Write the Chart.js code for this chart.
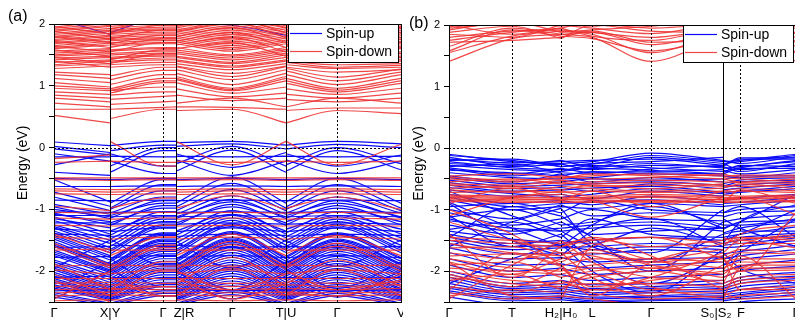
<!DOCTYPE html>
<html>
<head>
<meta charset="utf-8">
<script src="https://cdn.jsdelivr.net/npm/chart.js@4.4.0/dist/chart.umd.min.js"></script>
<style>
body { margin: 0; background: #fff; width: 795px; height: 322px; overflow: hidden; position: relative;
       font-family: "Liberation Sans", Arial, sans-serif; }
#wa { position: absolute; left: 0; top: 0; }
#wb { position: absolute; left: 400px; top: 0; }
.tag { position: absolute; font-size: 16px; line-height: 16px; color: #000; }
</style>
</head>
<body>
<canvas id="wa" width="403" height="322"></canvas>
<canvas id="wb" width="400" height="322"></canvas>
<div class="tag" style="left:8px;top:8px">(a)</div>
<div class="tag" style="left:409px;top:15px">(b)</div>
<script>
// ---- panel (a): k path and labels ----
// value order per band: Γ, X | Y, Γ, Z | R, Γ, T | U, Γ, V
const kA = [0, 56, 56, 109, 122, 122, 178, 232, 232, 283, 347];
const breaksA = [1, 4, 7];
const nodesA = [0, 56, 109, 122, 178, 232, 283, 347];
const solidA = [false, true, false, true, false, true, false, false];
const labelPosA = [0, 56, 109, 130, 178, 232, 283, 347];
const labelsA = ['Γ', 'X|Y', 'Γ', 'Z|R', 'Γ', 'T|U', 'Γ', 'V'];

// spin-down conduction bands (a)
const aDnCond = [
  [0.52, 0.40, 0.47, 0.62, 0.62, 0.60, 0.62, 0.40, 0.40, 0.60, 0.55],
  [0.62, 0.62, 0.62, 0.65, 0.66, 0.66, 0.65, 0.62, 0.60, 0.64, 0.64],
  [0.72, 0.66, 0.70, 0.74, 0.75, 0.72, 0.80, 0.66, 0.66, 0.80, 0.72],
  [0.80, 0.74, 0.78, 0.83, 0.84, 0.85, 0.76, 0.80, 0.78, 0.74, 0.80],
  [0.85, 0.80, 0.85, 0.90, 0.90, 0.95, 0.82, 0.88, 0.86, 0.80, 0.88],
  [0.90, 0.86, 0.92, 0.98, 0.98, 1.05, 0.88, 0.98, 0.95, 0.86, 0.96],
  [0.96, 0.92, 0.88, 1.05, 1.05, 1.10, 0.92, 1.08, 1.04, 0.90, 1.04],
  [1.00, 0.95, 0.92, 1.08, 1.08, 1.12, 0.94, 1.12, 1.08, 0.93, 1.08],
  [1.05, 0.98, 0.95, 1.12, 1.12, 1.15, 0.96, 1.15, 1.12, 0.96, 1.12],
  [1.12, 1.05, 1.02, 1.18, 1.18, 1.20, 1.02, 1.20, 1.18, 1.02, 1.18],
  [1.18, 1.12, 1.10, 1.25, 1.25, 1.26, 1.10, 1.26, 1.24, 1.08, 1.22],
  [1.22, 1.18, 1.16, 1.30, 1.30, 1.31, 1.15, 1.31, 1.28, 1.14, 1.27],
  [1.28, 1.32, 1.30, 1.34, 1.34, 1.32, 1.20, 1.32, 1.30, 1.22, 1.26],
  [1.32, 1.36, 1.34, 1.38, 1.38, 1.36, 1.26, 1.36, 1.34, 1.28, 1.30],
  [1.34, 1.40, 1.38, 1.42, 1.42, 1.40, 1.30, 1.40, 1.38, 1.30, 1.33],
  [1.38, 1.42, 1.40, 1.45, 1.45, 1.42, 1.32, 1.42, 1.40, 1.34, 1.36],
  [1.42, 1.46, 1.44, 1.48, 1.48, 1.46, 1.36, 1.46, 1.44, 1.38, 1.40],
  [1.45, 1.48, 1.46, 1.50, 1.50, 1.48, 1.38, 1.50, 1.46, 1.40, 1.42],
  [1.48, 1.52, 1.50, 1.53, 1.53, 1.52, 1.42, 1.53, 1.50, 1.44, 1.46],
  [1.50, 1.55, 1.52, 1.56, 1.56, 1.55, 1.45, 1.56, 1.52, 1.46, 1.48],
  [1.53, 1.58, 1.56, 1.60, 1.60, 1.58, 1.48, 1.59, 1.56, 1.50, 1.52],
  [1.56, 1.60, 1.58, 1.62, 1.62, 1.62, 1.50, 1.62, 1.58, 1.52, 1.55],
  [1.60, 1.66, 1.64, 1.68, 1.68, 1.68, 1.56, 1.68, 1.64, 1.58, 1.60],
  [1.62, 1.69, 1.67, 1.70, 1.70, 1.71, 1.59, 1.71, 1.67, 1.60, 1.63],
  [1.65, 1.72, 1.70, 1.73, 1.73, 1.74, 1.62, 1.74, 1.70, 1.63, 1.66],
  [1.68, 1.75, 1.73, 1.76, 1.76, 1.77, 1.65, 1.77, 1.73, 1.66, 1.69],
  [1.70, 1.77, 1.75, 1.78, 1.78, 1.80, 1.68, 1.80, 1.76, 1.68, 1.72],
  [1.73, 1.80, 1.78, 1.81, 1.81, 1.83, 1.71, 1.83, 1.79, 1.71, 1.75],
  [1.75, 1.82, 1.80, 1.84, 1.84, 1.86, 1.74, 1.86, 1.82, 1.74, 1.78],
  [1.78, 1.85, 1.83, 1.87, 1.87, 1.89, 1.77, 1.89, 1.85, 1.77, 1.81],
  [1.80, 1.88, 1.86, 1.90, 1.90, 1.92, 1.80, 1.92, 1.88, 1.80, 1.84],
  [1.83, 1.90, 1.88, 1.92, 1.92, 1.95, 1.83, 1.95, 1.91, 1.83, 1.87],
  [1.85, 1.93, 1.90, 1.95, 1.95, 1.98, 1.86, 1.98, 1.94, 1.86, 1.90],
  [1.88, 1.96, 1.93, 1.98, 1.98, 2.01, 1.89, 2.01, 1.97, 1.89, 1.93],
  [1.90, 1.98, 1.96, 2.02, 2.02, 2.04, 1.92, 2.04, 2.00, 1.92, 1.96],
  [1.93, 2.01, 1.99, 2.05, 2.05, 2.07, 1.95, 2.07, 2.03, 1.95, 1.99],
  [1.95, 2.05, 2.02, 2.08, 2.08, 2.10, 1.98, 2.10, 2.06, 1.98, 2.02],
  [2.00, 2.10, 2.08, 2.12, 2.12, 2.15, 2.04, 2.16, 2.12, 2.04, 2.08],
  [1.40, 1.30, 1.36, 1.52, 1.52, 1.60, 1.70, 1.48, 1.40, 1.66, 1.45],
  [1.46, 1.36, 1.42, 1.58, 1.58, 1.66, 1.78, 1.55, 1.48, 1.74, 1.52],
  [1.58, 1.48, 1.55, 1.70, 1.70, 1.72, 1.86, 1.62, 1.58, 1.82, 1.62],
  [1.64, 1.55, 1.62, 1.76, 1.76, 1.80, 1.94, 1.70, 1.65, 1.90, 1.70],
  [1.72, 1.62, 1.68, 1.82, 1.82, 1.88, 2.02, 1.78, 1.72, 1.98, 1.78],
  [1.80, 1.70, 1.76, 1.90, 1.90, 1.96, 2.08, 1.86, 1.80, 2.05, 1.86],
  [1.88, 1.76, 1.84, 1.98, 1.98, 2.04, 2.15, 1.94, 1.90, 2.12, 1.94],
  [1.96, 1.84, 1.92, 2.05, 2.05, 2.10, 2.20, 2.02, 1.98, 2.18, 2.02]
];
// spin-up conduction band (a)
const aUpCond = [
  [2.10, 1.83, 1.86, 2.10, 2.10, 2.02, 1.98, 1.82, 1.84, 2.06, 2.10]
];
// spin-up valence bands (a)
const aUpVal = [
  [0.09, 0.03, 0.03, 0.10, 0.10, 0.08, 0.10, 0.04, 0.04, 0.10, 0.06],
  [0.02, -0.08, -0.05, 0.04, 0.04, 0.02, 0.06, -0.02, -0.02, 0.05, 0.00],
  [-0.02, -0.12, -0.30, 0.00, 0.00, -0.26, 0.02, -0.30, -0.28, 0.00, -0.26],
  [-0.10, -0.22, -0.40, -0.05, -0.05, -0.38, -0.04, -0.40, -0.38, -0.05, -0.36],
  [-0.15, -0.15, -0.14, -0.15, -0.15, -0.14, -0.15, -0.14, -0.14, -0.15, -0.14],
  [-0.28, -0.10, -0.10, -0.30, -0.30, -0.10, -0.32, -0.08, -0.10, -0.30, -0.12],
  [-0.40, -0.45, -0.22, -0.42, -0.42, -0.20, -0.45, -0.22, -0.20, -0.42, -0.22],
  [-0.50, -0.52, -0.52, -0.50, -0.50, -0.52, -0.50, -0.52, -0.52, -0.50, -0.52],
  [-0.52, -0.88, -0.90, -0.52, -0.52, -0.90, -0.48, -0.90, -0.88, -0.50, -0.90],
  [-0.63, -0.63, -0.63, -0.62, -0.62, -0.63, -0.62, -0.63, -0.63, -0.62, -0.63],
  [-0.72, -0.95, -0.98, -0.60, -0.60, -0.96, -0.58, -0.98, -0.96, -0.60, -0.98],
  [-0.80, -1.02, -1.00, -0.70, -0.70, -1.02, -0.68, -1.02, -1.00, -0.70, -1.02],
  [-0.85, -0.86, -0.86, -0.85, -0.85, -0.86, -0.85, -0.86, -0.86, -0.85, -0.86],
  [-0.92, -1.08, -1.06, -0.80, -0.80, -1.08, -0.78, -1.08, -1.06, -0.80, -1.06],
  [-0.96, -1.15, -1.14, -0.86, -0.86, -1.15, -0.84, -1.15, -1.14, -0.86, -1.14],
  [-1.00, -1.12, -1.10, -0.90, -0.90, -1.12, -0.88, -1.12, -1.10, -0.90, -1.12],
  [-1.04, -1.05, -1.05, -1.04, -1.04, -1.05, -1.04, -1.05, -1.05, -1.04, -1.05],
  [-1.06, -1.25, -1.26, -0.94, -0.94, -1.26, -0.92, -1.26, -1.25, -0.94, -1.25],
  [-1.08, -1.20, -1.22, -0.98, -0.98, -1.22, -0.96, -1.22, -1.20, -0.98, -1.20],
  [-1.10, -1.10, -1.12, -1.10, -1.10, -1.12, -1.10, -1.12, -1.12, -1.10, -1.12],
  [-1.12, -1.40, -1.42, -1.04, -1.04, -1.42, -1.02, -1.40, -1.38, -1.04, -1.40],
  [-1.15, -1.30, -1.35, -1.10, -1.10, -1.35, -1.08, -1.35, -1.32, -1.10, -1.32],
  [-1.18, -1.45, -1.48, -1.12, -1.12, -1.48, -1.10, -1.46, -1.44, -1.12, -1.46],
  [-1.22, -1.22, -1.24, -1.22, -1.22, -1.24, -1.22, -1.24, -1.24, -1.22, -1.24],
  [-1.25, -1.50, -1.54, -1.16, -1.16, -1.54, -1.14, -1.52, -1.50, -1.16, -1.52],
  [-1.28, -1.55, -1.60, -1.20, -1.20, -1.60, -1.18, -1.58, -1.55, -1.20, -1.58],
  [-1.30, -1.62, -1.65, -1.25, -1.25, -1.65, -1.23, -1.63, -1.60, -1.24, -1.63],
  [-1.32, -1.35, -1.36, -1.30, -1.30, -1.36, -1.30, -1.36, -1.36, -1.30, -1.36],
  [-1.35, -1.66, -1.68, -1.27, -1.27, -1.68, -1.25, -1.66, -1.64, -1.27, -1.66],
  [-1.38, -1.70, -1.72, -1.30, -1.30, -1.72, -1.28, -1.70, -1.68, -1.30, -1.70],
  [-1.40, -1.42, -1.44, -1.40, -1.40, -1.44, -1.40, -1.42, -1.44, -1.40, -1.42],
  [-1.42, -1.75, -1.80, -1.38, -1.38, -1.80, -1.36, -1.78, -1.76, -1.38, -1.78],
  [-1.45, -1.78, -1.82, -1.40, -1.40, -1.82, -1.38, -1.80, -1.78, -1.40, -1.80],
  [-1.48, -1.82, -1.85, -1.42, -1.42, -1.85, -1.40, -1.84, -1.82, -1.42, -1.84],
  [-1.52, -1.88, -1.90, -1.48, -1.48, -1.90, -1.46, -1.88, -1.86, -1.48, -1.88],
  [-1.55, -1.90, -1.92, -1.50, -1.50, -1.92, -1.48, -1.90, -1.88, -1.50, -1.90],
  [-1.58, -1.92, -1.95, -1.52, -1.52, -1.95, -1.50, -1.94, -1.92, -1.52, -1.94],
  [-1.60, -1.95, -1.98, -1.55, -1.55, -1.98, -1.53, -1.96, -1.94, -1.55, -1.96],
  [-1.62, -1.60, -1.58, -1.60, -1.60, -1.58, -1.62, -1.60, -1.60, -1.62, -1.60],
  [-1.66, -1.98, -2.00, -1.58, -1.58, -2.00, -1.56, -1.98, -1.96, -1.58, -1.98],
  [-1.69, -2.00, -2.02, -1.62, -1.62, -2.02, -1.60, -2.01, -1.99, -1.61, -2.01],
  [-1.72, -2.02, -2.05, -1.65, -1.65, -2.05, -1.62, -2.04, -2.02, -1.64, -2.04],
  [-1.75, -2.06, -2.08, -1.68, -1.68, -2.08, -1.66, -2.07, -2.05, -1.68, -2.07],
  [-1.78, -1.76, -1.78, -1.75, -1.75, -1.78, -1.75, -1.78, -1.78, -1.75, -1.78],
  [-1.82, -2.10, -2.12, -1.72, -1.72, -2.12, -1.70, -2.10, -2.08, -1.72, -2.10],
  [-1.85, -2.14, -2.16, -1.76, -1.76, -2.16, -1.74, -2.14, -2.12, -1.76, -2.14],
  [-1.88, -2.18, -2.20, -1.80, -1.80, -2.20, -1.78, -2.18, -2.16, -1.80, -2.18],
  [-1.92, -2.22, -2.23, -1.84, -1.84, -2.23, -1.82, -2.22, -2.20, -1.84, -2.22],
  [-1.95, -2.25, -2.26, -1.88, -1.88, -2.26, -1.86, -2.25, -2.24, -1.88, -2.25],
  [-1.98, -2.28, -2.29, -1.92, -1.92, -2.29, -1.90, -2.28, -2.27, -1.92, -2.28],
  [-2.02, -2.30, -2.32, -1.95, -1.95, -2.32, -1.94, -2.30, -2.30, -1.96, -2.30],
  [-2.05, -2.33, -2.34, -1.98, -1.98, -2.34, -1.97, -2.33, -2.32, -1.99, -2.33],
  [-2.08, -2.35, -2.36, -2.02, -2.02, -2.36, -2.00, -2.35, -2.34, -2.02, -2.35],
  [-2.10, -2.08, -2.10, -2.12, -2.12, -2.10, -2.12, -2.10, -2.10, -2.12, -2.10],
  [-2.12, -2.38, -2.38, -2.06, -2.06, -2.38, -2.04, -2.38, -2.36, -2.06, -2.38],
  [-2.15, -2.40, -2.40, -2.10, -2.10, -2.40, -2.08, -2.40, -2.38, -2.10, -2.40],
  [-2.18, -2.42, -2.43, -2.14, -2.14, -2.43, -2.12, -2.42, -2.41, -2.14, -2.42],
  [-2.22, -2.44, -2.45, -2.18, -2.18, -2.45, -2.16, -2.44, -2.43, -2.18, -2.44],
  [-2.25, -2.46, -2.46, -2.22, -2.22, -2.46, -2.20, -2.46, -2.45, -2.22, -2.46],
  [-2.28, -2.48, -2.48, -2.25, -2.25, -2.48, -2.24, -2.48, -2.47, -2.25, -2.48],
  [-2.32, -2.30, -2.28, -2.30, -2.30, -2.28, -2.32, -2.30, -2.30, -2.32, -2.30],
  [-2.35, -2.52, -2.52, -2.32, -2.32, -2.52, -2.30, -2.52, -2.52, -2.32, -2.52],
  [-2.38, -2.54, -2.54, -2.36, -2.36, -2.54, -2.34, -2.54, -2.54, -2.36, -2.54],
  [-2.42, -2.56, -2.56, -2.40, -2.40, -2.56, -2.38, -2.56, -2.56, -2.40, -2.56],
  [-1.95, -1.50, -1.48, -1.90, -1.90, -1.52, -1.95, -1.50, -1.50, -1.92, -1.50],
  [-2.30, -1.85, -1.80, -2.25, -2.25, -1.85, -2.30, -1.85, -1.82, -2.28, -1.85],
  [-2.45, -2.00, -1.96, -2.40, -2.40, -2.00, -2.45, -2.00, -1.98, -2.42, -2.00]
];
// spin-down valence bands (a)
const aDnVal = [
  [-0.18, -0.12, 0.10, -0.30, -0.30, 0.10, -0.28, 0.10, 0.10, -0.28, 0.05],
  [-0.24, -0.22, -0.22, -0.24, -0.24, -0.22, -0.24, -0.22, -0.22, -0.24, -0.22],
  [-0.49, -0.49, -0.49, -0.49, -0.49, -0.49, -0.49, -0.49, -0.49, -0.49, -0.49],
  [-0.52, -0.53, -0.53, -0.52, -0.52, -0.53, -0.52, -0.53, -0.53, -0.52, -0.53],
  [-0.67, -0.68, -0.68, -0.67, -0.67, -0.68, -0.67, -0.68, -0.68, -0.67, -0.68],
  [-0.70, -0.72, -0.72, -0.70, -0.70, -0.72, -0.70, -0.72, -0.72, -0.70, -0.72],
  [-0.75, -0.76, -0.76, -0.75, -0.75, -0.76, -0.75, -0.76, -0.76, -0.75, -0.76],
  [-0.95, -1.02, -0.98, -0.82, -0.82, -0.98, -0.78, -1.00, -0.98, -0.80, -1.00],
  [-1.05, -1.06, -1.06, -1.05, -1.05, -1.06, -1.05, -1.06, -1.06, -1.05, -1.06],
  [-1.14, -1.16, -1.16, -1.14, -1.14, -1.16, -1.14, -1.16, -1.16, -1.14, -1.16],
  [-1.26, -1.27, -1.27, -1.26, -1.26, -1.27, -1.26, -1.27, -1.27, -1.26, -1.27],
  [-1.40, -1.70, -1.75, -1.45, -1.45, -1.75, -1.40, -1.75, -1.72, -1.42, -1.75],
  [-1.45, -1.48, -1.48, -1.45, -1.45, -1.48, -1.45, -1.48, -1.48, -1.45, -1.48],
  [-1.55, -1.90, -1.95, -1.58, -1.58, -1.95, -1.52, -1.92, -1.90, -1.55, -1.95],
  [-1.60, -1.95, -2.00, -1.62, -1.62, -2.00, -1.57, -1.97, -1.95, -1.60, -2.00],
  [-1.66, -1.64, -1.66, -1.66, -1.66, -1.66, -1.66, -1.64, -1.66, -1.66, -1.66],
  [-1.88, -2.30, -2.30, -1.85, -1.85, -2.20, -1.78, -2.25, -2.20, -1.82, -2.25],
  [-1.92, -1.90, -1.90, -1.92, -1.92, -1.90, -1.92, -1.90, -1.90, -1.92, -1.90],
  [-1.98, -2.05, -2.04, -1.98, -1.98, -2.04, -1.98, -2.05, -2.04, -1.98, -2.04],
  [-2.05, -2.40, -2.42, -2.00, -2.00, -2.40, -1.95, -2.40, -2.38, -1.98, -2.40],
  [-2.12, -2.12, -2.12, -2.12, -2.12, -2.12, -2.12, -2.12, -2.12, -2.12, -2.12],
  [-2.20, -2.18, -2.16, -2.20, -2.20, -2.16, -2.20, -2.18, -2.16, -2.20, -2.18],
  [-2.25, -2.22, -2.22, -2.25, -2.25, -2.22, -2.25, -2.22, -2.22, -2.25, -2.22],
  [-2.30, -2.28, -2.28, -2.30, -2.30, -2.28, -2.30, -2.28, -2.28, -2.30, -2.28],
  [-2.35, -2.34, -2.34, -2.35, -2.35, -2.34, -2.35, -2.34, -2.34, -2.35, -2.34],
  [-2.40, -2.38, -2.38, -2.40, -2.40, -2.38, -2.40, -2.38, -2.38, -2.40, -2.38],
  [-2.48, -2.46, -2.46, -2.48, -2.48, -2.46, -2.48, -2.46, -2.46, -2.48, -2.46],
  [-2.15, -2.50, -2.30, -2.25, -2.25, -2.10, -2.45, -2.20, -2.35, -2.40, -2.05],
  [-2.45, -2.00, -2.10, -2.40, -2.40, -2.00, -2.30, -2.05, -2.00, -2.30, -2.15]
];

// ---- panel (b): k path and labels ----
// value order per band: Γ, T, H2 | H0, L, Γ, S0 | S2, F, Γ
const kB = [0, 63, 112, 112, 143, 202, 274, 274, 291, 347];
const breaksB = [2, 6];
const nodesB = [0, 63, 112, 143, 202, 274, 291, 347];
const solidB = [false, false, false, false, false, true, false, false];
const labelPosB = [0, 63, 112, 143, 202, 267, 292, 347];
const labelsB = ['Γ', 'T', 'H₂|H₀', 'L', 'Γ', 'S₀|S₂', 'F', 'Γ'];

const bDnCond = [
  [1.41, 1.78, 1.85, 1.85, 1.80, 1.41, 1.85, 1.85, 1.78, 1.41],
  [1.55, 1.82, 1.90, 1.90, 1.85, 1.55, 1.92, 1.92, 1.82, 1.55],
  [1.58, 1.92, 1.82, 1.82, 1.78, 1.58, 1.80, 1.80, 1.70, 1.57],
  [1.65, 1.95, 1.85, 1.85, 1.88, 1.68, 1.90, 1.90, 1.80, 1.66],
  [1.72, 1.75, 1.80, 1.80, 1.90, 1.72, 1.75, 1.75, 1.90, 1.72],
  [1.75, 1.88, 1.95, 1.95, 1.82, 1.75, 1.98, 1.98, 1.92, 1.74],
  [1.80, 1.90, 1.92, 1.92, 1.88, 1.80, 1.95, 1.95, 1.88, 1.80],
  [1.85, 1.80, 2.00, 2.00, 1.95, 1.86, 2.05, 2.05, 2.00, 1.86],
  [1.88, 1.98, 1.78, 1.78, 2.00, 1.90, 1.88, 1.88, 1.95, 1.88],
  [1.92, 2.05, 1.88, 1.88, 1.92, 1.98, 2.10, 2.10, 2.05, 1.98],
  [1.95, 2.02, 1.98, 1.98, 2.02, 1.95, 2.02, 2.02, 1.98, 1.95],
  [2.00, 1.85, 1.95, 1.95, 2.05, 2.05, 1.96, 1.96, 1.85, 2.00],
  [1.97, 2.10, 2.05, 2.05, 1.98, 2.10, 2.15, 2.15, 2.10, 2.05]
];
const bUpVal = [
  [-0.10, -0.22, -0.25, -0.25, -0.22, -0.08, -0.20, -0.22, -0.20, -0.10],
  [-0.12, -0.20, -0.30, -0.30, -0.26, -0.12, -0.22, -0.25, -0.22, -0.12],
  [-0.15, -0.28, -0.20, -0.20, -0.30, -0.15, -0.25, -0.20, -0.25, -0.14],
  [-0.18, -0.24, -0.22, -0.22, -0.20, -0.18, -0.28, -0.30, -0.16, -0.16],
  [-0.20, -0.18, -0.30, -0.30, -0.25, -0.22, -0.15, -0.28, -0.18, -0.18],
  [-0.22, -0.32, -0.35, -0.35, -0.32, -0.25, -0.32, -0.38, -0.32, -0.20],
  [-0.25, -0.30, -0.26, -0.26, -0.35, -0.28, -0.30, -0.33, -0.30, -0.22],
  [-0.28, -0.35, -0.38, -0.38, -0.28, -0.32, -0.38, -0.25, -0.35, -0.27],
  [-0.30, -0.26, -0.40, -0.40, -0.42, -0.34, -0.28, -0.30, -0.38, -0.25],
  [-0.32, -0.42, -0.33, -0.33, -0.40, -0.38, -0.35, -0.40, -0.28, -0.30],
  [-0.34, -0.45, -0.38, -0.38, -0.33, -0.36, -0.42, -0.42, -0.33, -0.33],
  [-0.36, -0.40, -0.45, -0.45, -0.38, -0.42, -0.45, -0.36, -0.42, -0.35],
  [-0.40, -0.48, -0.50, -0.50, -0.48, -0.40, -0.42, -0.45, -0.48, -0.40],
  [-0.45, -0.55, -0.42, -0.42, -0.55, -0.48, -0.55, -0.52, -0.45, -0.45],
  [-0.48, -0.58, -0.55, -0.55, -0.50, -0.52, -0.50, -0.58, -0.52, -0.48],
  [-0.52, -0.62, -0.60, -0.60, -0.58, -0.55, -0.60, -0.62, -0.55, -0.52],
  [-0.56, -0.66, -0.64, -0.64, -0.70, -0.58, -0.66, -0.64, -0.60, -0.55],
  [-0.60, -0.70, -0.68, -0.68, -0.65, -0.62, -0.72, -0.68, -0.65, -0.58],
  [-0.64, -0.74, -0.80, -0.80, -0.75, -0.66, -0.74, -0.72, -0.70, -0.62],
  [-0.68, -0.78, -0.75, -0.75, -0.82, -0.70, -0.78, -0.75, -0.72, -0.66],
  [-0.75, -0.90, -0.85, -0.85, -0.92, -0.78, -0.88, -0.85, -0.82, -0.75],
  [-0.80, -0.95, -0.90, -0.90, -0.88, -0.84, -0.92, -0.90, -0.88, -0.80],
  [-0.85, -1.00, -0.95, -0.95, -0.98, -0.90, -0.95, -0.95, -0.92, -0.85],
  [-0.95, -0.90, -1.05, -1.05, -0.85, -1.00, -1.05, -1.05, -1.00, -0.95],
  [-1.00, -1.15, -0.92, -0.92, -1.10, -1.05, -1.10, -1.12, -1.05, -1.02],
  [-1.05, -1.25, -1.15, -1.15, -1.00, -1.15, -1.18, -1.20, -1.15, -1.08],
  [-1.12, -1.00, -1.25, -1.25, -1.20, -0.95, -1.25, -1.25, -1.25, -1.15],
  [-1.15, -1.35, -1.30, -1.30, -1.25, -1.20, -1.30, -1.32, -1.20, -1.18],
  [-1.18, -1.30, -1.35, -1.35, -1.30, -1.25, -1.35, -1.38, -1.30, -1.20],
  [-1.25, -1.40, -1.20, -1.20, -1.40, -1.35, -1.30, -1.45, -1.40, -1.28],
  [-1.32, -1.20, -1.45, -1.45, -1.15, -1.40, -1.45, -1.40, -1.35, -1.35],
  [-1.35, -1.48, -1.55, -1.55, -1.50, -1.45, -1.50, -1.48, -1.45, -1.38],
  [-1.40, -1.55, -1.50, -1.50, -1.55, -1.30, -1.55, -1.55, -1.50, -1.42],
  [-1.45, -1.60, -1.58, -1.58, -1.65, -1.60, -1.65, -1.58, -1.55, -1.46],
  [-1.50, -1.65, -1.62, -1.62, -1.60, -1.55, -1.60, -1.62, -1.60, -1.50],
  [-1.55, -1.72, -1.70, -1.70, -1.72, -1.65, -1.70, -1.72, -1.68, -1.58],
  [-1.62, -1.80, -1.78, -1.78, -1.85, -1.80, -1.78, -1.80, -1.75, -1.65],
  [-1.70, -1.90, -1.88, -1.88, -1.95, -1.90, -1.85, -1.90, -1.82, -1.72],
  [-1.80, -2.00, -1.95, -1.95, -2.05, -2.00, -1.95, -2.00, -1.92, -1.82],
  [-1.90, -2.10, -2.05, -2.05, -2.15, -2.10, -2.05, -2.10, -2.00, -1.92],
  [-2.00, -2.20, -2.15, -2.15, -2.22, -2.20, -2.15, -2.20, -2.10, -2.02],
  [-2.05, -2.25, -2.20, -2.20, -2.28, -2.25, -2.20, -2.25, -2.15, -2.08],
  [-2.10, -2.28, -2.25, -2.25, -2.30, -2.28, -2.25, -2.28, -2.20, -2.12],
  [-2.15, -2.32, -2.28, -2.28, -2.35, -2.32, -2.28, -2.32, -2.25, -2.18],
  [-2.20, -2.35, -2.32, -2.32, -2.38, -2.35, -2.32, -2.35, -2.30, -2.22],
  [-2.25, -2.38, -2.36, -2.36, -2.42, -2.40, -2.36, -2.38, -2.35, -2.26],
  [-2.28, -2.42, -2.40, -2.40, -2.45, -2.42, -2.40, -2.42, -2.38, -2.30],
  [-2.32, -2.45, -2.43, -2.43, -2.48, -2.46, -2.43, -2.45, -2.42, -2.34],
  [-2.35, -2.48, -2.46, -2.46, -2.50, -2.48, -2.46, -2.48, -2.45, -2.38],
  [-2.42, -2.55, -2.52, -2.52, -2.55, -2.55, -2.52, -2.55, -2.50, -2.45],
  [-0.70, -1.10, -1.35, -1.35, -1.60, -1.85, -1.40, -1.30, -1.20, -0.75],
  [-0.88, -1.30, -1.60, -1.60, -1.25, -0.90, -1.30, -1.55, -1.20, -0.92],
  [-0.90, -1.50, -1.75, -1.75, -1.35, -1.15, -1.60, -1.50, -1.40, -1.00],
  [-1.10, -1.60, -1.40, -1.40, -1.80, -2.20, -1.75, -1.90, -1.70, -1.15],
  [-1.45, -0.95, -1.10, -1.10, -1.45, -2.00, -1.20, -1.05, -0.95, -1.45],
  [-1.60, -1.20, -0.98, -0.98, -1.55, -1.70, -1.00, -1.15, -1.30, -1.60],
  [-2.20, -1.80, -1.55, -1.55, -2.00, -2.35, -1.65, -1.70, -1.95, -2.20]
];
const bDnVal = [
  [-0.45, -0.42, -0.48, -0.48, -0.45, -0.42, -0.45, -0.46, -0.44, -0.44],
  [-0.47, -0.52, -0.50, -0.50, -0.42, -0.45, -0.50, -0.42, -0.47, -0.47],
  [-0.50, -0.55, -0.45, -0.45, -0.50, -0.48, -0.42, -0.50, -0.55, -0.50],
  [-0.55, -0.50, -0.58, -0.58, -0.55, -0.52, -0.55, -0.48, -0.50, -0.55],
  [-0.58, -0.60, -0.52, -0.52, -0.58, -0.56, -0.60, -0.55, -0.56, -0.57],
  [-0.60, -0.65, -0.55, -0.55, -0.62, -0.60, -0.62, -0.60, -0.62, -0.60],
  [-0.65, -0.62, -0.68, -0.68, -0.60, -0.66, -0.58, -0.65, -0.58, -0.66],
  [-0.68, -0.72, -0.62, -0.62, -0.66, -0.70, -0.65, -0.70, -0.66, -0.69],
  [-0.72, -0.70, -0.72, -0.72, -0.70, -0.72, -0.70, -0.72, -0.70, -0.72],
  [-0.76, -0.78, -0.70, -0.70, -0.78, -0.75, -0.78, -0.76, -0.78, -0.76],
  [-0.78, -0.80, -0.80, -0.80, -0.80, -0.78, -0.80, -0.80, -0.80, -0.78],
  [-0.80, -0.82, -0.84, -0.84, -0.82, -0.80, -0.84, -0.82, -0.82, -0.80],
  [-0.82, -0.84, -0.82, -0.82, -0.84, -0.85, -0.83, -0.84, -0.83, -0.82],
  [-0.84, -0.86, -0.86, -0.86, -0.86, -0.88, -0.86, -0.86, -0.86, -0.85],
  [-0.86, -0.88, -0.88, -0.88, -0.88, -0.86, -0.88, -0.88, -0.88, -0.87],
  [-1.10, -0.80, -0.75, -0.75, -0.85, -1.12, -0.80, -0.85, -0.80, -1.08],
  [-0.90, -0.65, -0.85, -0.85, -0.70, -0.95, -0.70, -0.90, -0.68, -0.90],
  [-1.45, -1.50, -1.55, -1.55, -1.48, -1.60, -1.50, -1.55, -1.48, -1.45],
  [-1.50, -1.55, -1.60, -1.60, -1.50, -1.45, -1.55, -1.50, -1.45, -1.50],
  [-1.55, -1.70, -1.75, -1.75, -1.55, -1.80, -1.65, -1.45, -1.55, -1.55],
  [-1.62, -1.60, -1.85, -1.85, -1.65, -1.85, -1.75, -1.70, -1.50, -1.62],
  [-1.70, -1.80, -1.70, -1.70, -1.75, -1.95, -1.80, -1.75, -1.65, -1.70],
  [-1.75, -1.72, -1.92, -1.92, -1.80, -1.80, -1.85, -1.80, -1.70, -1.72],
  [-1.80, -1.95, -2.00, -2.00, -1.90, -1.85, -1.95, -1.85, -1.80, -1.80],
  [-1.85, -2.05, -1.80, -1.80, -1.70, -1.90, -2.05, -1.95, -1.85, -1.86],
  [-1.90, -1.85, -2.10, -2.10, -2.00, -1.95, -2.10, -2.05, -1.90, -1.90],
  [-1.95, -2.00, -2.05, -2.05, -1.95, -2.10, -2.15, -2.00, -1.95, -1.95],
  [-2.00, -2.15, -2.20, -2.20, -2.10, -2.00, -2.20, -2.10, -2.00, -1.98],
  [-2.05, -2.25, -1.95, -1.95, -2.25, -2.15, -2.00, -2.20, -2.10, -2.05],
  [-2.10, -2.20, -2.25, -2.25, -2.20, -2.20, -2.25, -2.25, -2.15, -2.10],
  [-2.15, -2.05, -2.30, -2.30, -2.05, -2.30, -2.30, -2.30, -2.20, -2.15],
  [-2.25, -2.35, -2.15, -2.15, -2.35, -2.45, -2.40, -2.40, -2.30, -2.25],
  [-2.35, -2.45, -2.40, -2.40, -2.45, -2.55, -2.50, -2.45, -2.40, -2.35],
  [-2.40, -2.30, -2.35, -2.35, -2.30, -2.35, -2.35, -2.35, -2.45, -2.40],
  [-1.00, -1.40, -1.90, -1.90, -2.30, -2.10, -1.70, -1.80, -2.00, -1.05],
  [-1.20, -1.50, -1.70, -1.70, -2.10, -2.40, -1.90, -1.60, -1.40, -1.25],
  [-1.40, -2.10, -1.60, -1.60, -1.45, -1.75, -2.30, -2.00, -1.60, -1.40],
  [-2.30, -1.70, -1.90, -1.90, -2.40, -1.85, -1.55, -1.75, -2.30, -2.30],
  [-1.85, -2.40, -2.45, -2.45, -1.60, -1.45, -1.80, -2.45, -1.95, -1.85],
  [-2.45, -1.90, -1.50, -1.50, -1.85, -2.25, -2.45, -2.20, -1.75, -2.45]
];

const BLUE = 'rgb(10, 10, 250)';
const RED = 'rgba(238, 52, 52, 0.9)';

function toPoints(vals, k, breaks) {
    const pts = [];
    for (let i = 0; i < vals.length; i++) {
        pts.push({x: k[i], y: vals[i]});
        if (breaks.includes(i)) pts.push({x: k[i], y: null}); // discontinuity
    }
    return pts;
}

function bandSets(bands, k, breaks, color) {
    return bands.map(vals => ({
        data: toPoints(vals, k, breaks),
        borderColor: color,
        borderWidth: 1.2,
        pointRadius: 0,
        fill: false,
        spanGaps: false,
        cubicInterpolationMode: 'monotone',
        clip: 0
    }));
}

// dotted high-symmetry lines, Fermi level, frame and legend
const decorPlugin = {
    id: 'decor',
    afterDatasetsDraw(chart, args, o) {
        const {ctx, chartArea: a, scales: {x, y}} = chart;
        ctx.save();
        ctx.strokeStyle = '#000';
        ctx.lineWidth = 1;
        o.nodes.forEach((v, i) => {
            if (i === 0 || i === o.nodes.length - 1) return;
            const px = Math.round(x.getPixelForValue(v)) + 0.5;
            ctx.setLineDash(o.solid[i] ? [] : [2, 2]);
            ctx.beginPath(); ctx.moveTo(px, a.top); ctx.lineTo(px, a.bottom); ctx.stroke();
        });
        const py = Math.round(y.getPixelForValue(0)) + 0.5;
        ctx.setLineDash([2, 2]);
        ctx.beginPath(); ctx.moveTo(a.left, py); ctx.lineTo(a.right, py); ctx.stroke();
        ctx.setLineDash([]);
        ctx.strokeRect(Math.round(a.left) + 0.5, Math.round(a.top) + 0.5,
                       Math.round(a.right - a.left), Math.round(a.bottom - a.top));

        // legend box
        const L = o.legend;
        ctx.fillStyle = '#fff';
        ctx.fillRect(L.x, L.y, L.w, L.h);
        ctx.strokeRect(L.x + 0.5, L.y + 0.5, L.w, L.h);
        const entries = [['Spin-up', BLUE], ['Spin-down', RED]];
        ctx.font = '14px "Liberation Sans", Arial, sans-serif';
        ctx.textBaseline = 'middle';
        entries.forEach((e, i) => {
            const ly = L.y + 9.5 + i * 18;
            ctx.strokeStyle = e[1];
            ctx.lineWidth = 1.2;
            ctx.beginPath(); ctx.moveTo(L.x + 2, ly); ctx.lineTo(L.x + 34, ly); ctx.stroke();
            ctx.fillStyle = '#000';
            ctx.fillText(e[0], L.x + 38, ly + 0.5);
        });
        ctx.restore();
    }
};

function makePanel(canvasId, p) {
    const datasets = [
        ...bandSets(p.dn, p.k, p.breaks, RED),
        ...bandSets(p.up, p.k, p.breaks, BLUE)
    ];
    return new Chart(document.getElementById(canvasId), {
        type: 'line',
        data: {datasets: datasets},
        options: {
            responsive: false,
            animation: false,
            events: [],
            layout: {padding: {left: 0, right: p.padRight, top: p.padTop, bottom: 0}},
            plugins: {
                legend: {display: false},
                tooltip: {enabled: false},
                decor: {nodes: p.nodes, solid: p.solid, legend: p.legend}
            },
            scales: {
                x: {
                    type: 'linear',
                    min: 0,
                    max: 347,
                    grid: {display: false, drawTicks: false},
                    border: {display: false},
                    afterBuildTicks: s => { s.ticks = p.labelPos.map(v => ({value: v})); },
                    afterFit: s => { s.height = 20; s.paddingLeft = 0; s.paddingRight = 0; },
                    ticks: {
                        autoSkip: false,
                        maxRotation: 0,
                        padding: 4,
                        color: '#000',
                        font: {family: '"Liberation Sans", Arial, sans-serif', size: 13},
                        callback: (v, i) => p.labels[i]
                    }
                },
                y: {
                    min: -2.5,
                    max: 2,
                    border: {display: false},
                    grid: {drawOnChartArea: false, drawTicks: true, tickLength: 5, color: '#000'},
                    afterFit: s => { s.width = p.axisWidth; s.paddingTop = 0; s.paddingBottom = 0; },
                    ticks: {
                        stepSize: 0.5,
                        padding: 4,
                        color: '#000',
                        font: {family: '"Liberation Sans", Arial, sans-serif', size: 11},
                        callback: v => (Number.isInteger(v) ? String(v) : '')
                    },
                    title: {
                        display: true,
                        text: 'Energy (eV)',
                        color: '#000',
                        padding: {top: p.titlePad, bottom: 0},
                        font: {family: '"Liberation Sans", Arial, sans-serif', size: 14}
                    }
                }
            }
        },
        plugins: [decorPlugin]
    });
}

makePanel('wa', {
    k: kA, breaks: breaksA, nodes: nodesA, solid: solidA,
    labelPos: labelPosA, labels: labelsA,
    dn: [...aDnCond, ...aDnVal], up: [...aUpCond, ...aUpVal],
    padTop: 24, padRight: 2, axisWidth: 54, titlePad: 15,
    legend: {x: 288, y: 24, w: 110, h: 38}
});

makePanel('wb', {
    k: kB, breaks: breaksB, nodes: nodesB, solid: solidB,
    labelPos: labelPosB, labels: labelsB,
    dn: [...bDnCond, ...bDnVal], up: bUpVal,
    padTop: 25, padRight: 4, axisWidth: 49, titlePad: 11,
    legend: {x: 283, y: 25, w: 110, h: 37}
});
</script>
</body>
</html>
